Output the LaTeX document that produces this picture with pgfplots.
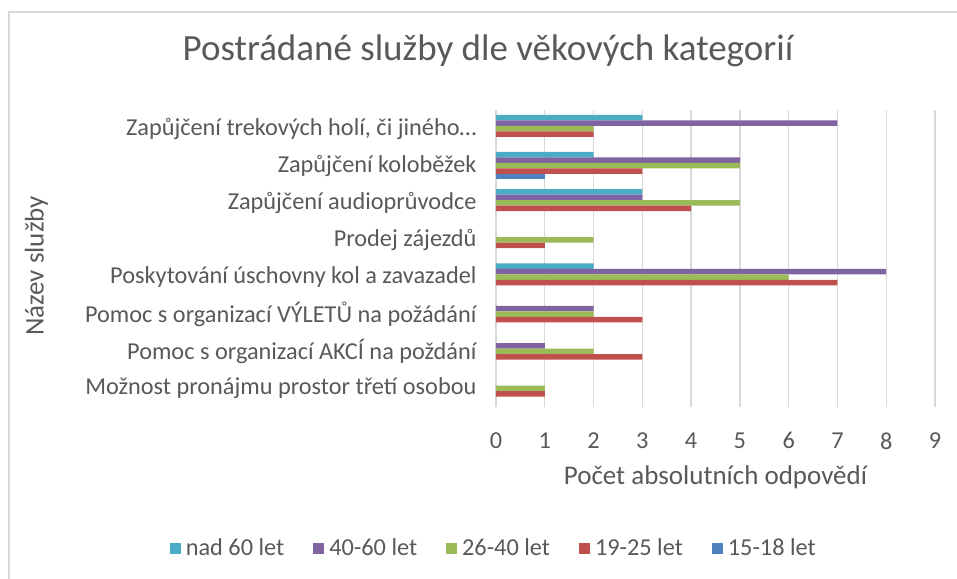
\documentclass[border=0pt]{standalone}
\usepackage{fontspec}
\setmainfont{Carlito}
\usepackage{pgfplots}
\pgfplotsset{compat=1.18}
\definecolor{txt}{HTML}{595959}
\definecolor{gridc}{HTML}{D9D9D9}
\definecolor{cA}{HTML}{4BACC6}
\definecolor{cB}{HTML}{8064A2}
\definecolor{cC}{HTML}{9BBB59}
\definecolor{cD}{HTML}{C0504D}
\definecolor{cE}{HTML}{4F81BD}
\newcommand{\bodyfont}{\fontsize{24.3bp}{28bp}\selectfont}
\newcommand{\labelfont}{\fontsize{27bp}{31bp}\selectfont}
\newcommand{\titlefont}{\fontsize{37bp}{44bp}\selectfont}
\begin{document}
\begin{tikzpicture}
\useasboundingbox (0,0) rectangle (957bp,579bp);
\fill[white] (0,0) rectangle (957bp,579bp);
\draw[gridc, line width=1.5bp] (9bp,0bp) -- (9bp,567bp) -- (957bp,567bp);
\node[text=txt, font=\titlefont] at (488bp,528bp) {Postrádané služby dle věkových kategorií};
\begin{axis}[
  at={(496bp,172bp)}, anchor=south west,
  scale only axis, width=439bp, height=297bp,
  xmin=0, xmax=9, ymin=-0.5, ymax=7.5,
  xtick={0,...,9}, ytick={0,...,7},
  yticklabels={{Možnost pronájmu prostor třetí osobou},{Pomoc s organizací AKCÍ na poždání},{Pomoc s organizací VÝLETŮ na požádání},{Poskytování úschovny kol a zavazadel},{Prodej zájezdů},{Zapůjčení audioprůvodce},{Zapůjčení koloběžek},{Zapůjčení trekových holí, či jiného…}},
  /pgf/number format/assume math mode=true,
  ticklabel style={font=\bodyfont, text=txt},
  yticklabel style={xshift=-16bp},
  xticklabel style={yshift=-22bp},
  major tick length=0pt,
  axis line style={draw=none},
  xmajorgrids, grid style={gridc, line width=1.4bp},
  xlabel={Počet absolutních odpovědí},
  xlabel style={font=\labelfont, text=txt, yshift=-10bp},
  ylabel={Název služby},
  ylabel style={font=\labelfont, text=txt, at={(axis description cs:-1.047,0.475)}, anchor=center, rotate=0},
  xbar, bar width=5.5bp,
  legend columns=5,
  legend style={draw=none, fill=none, at={(axis description cs:-0.005,-0.475)}, anchor=center, font=\bodyfont, text=txt, /tikz/every even column/.append style={column sep=27bp}},
  legend image code/.code={\path (0bp,0bp) -- (14bp,0bp); \fill[#1,draw=none] (0bp,-5.5bp) rectangle (11bp,5.5bp);},
]
\addplot[xbar, fill=cA, draw=none, bar shift=11bp] coordinates {(3,7) (2,6) (3,5) (2,3)};
\addlegendentry{nad 60 let}
\addplot[xbar, fill=cB, draw=none, bar shift=5.5bp] coordinates {(7,7) (5,6) (3,5) (8,3) (2,2) (1,1)};
\addlegendentry{40-60 let}
\addplot[xbar, fill=cC, draw=none, bar shift=0bp] coordinates {(2,7) (5,6) (5,5) (2,4) (6,3) (2,2) (2,1) (1,0)};
\addlegendentry{26-40 let}
\addplot[xbar, fill=cD, draw=none, bar shift=-5.5bp] coordinates {(2,7) (3,6) (4,5) (1,4) (7,3) (3,2) (3,1) (1,0)};
\addlegendentry{19-25 let}
\addplot[xbar, fill=cE, draw=none, bar shift=-11bp] coordinates {(1,6)};
\addlegendentry{15-18 let}
\end{axis}
\end{tikzpicture}
\end{document}
